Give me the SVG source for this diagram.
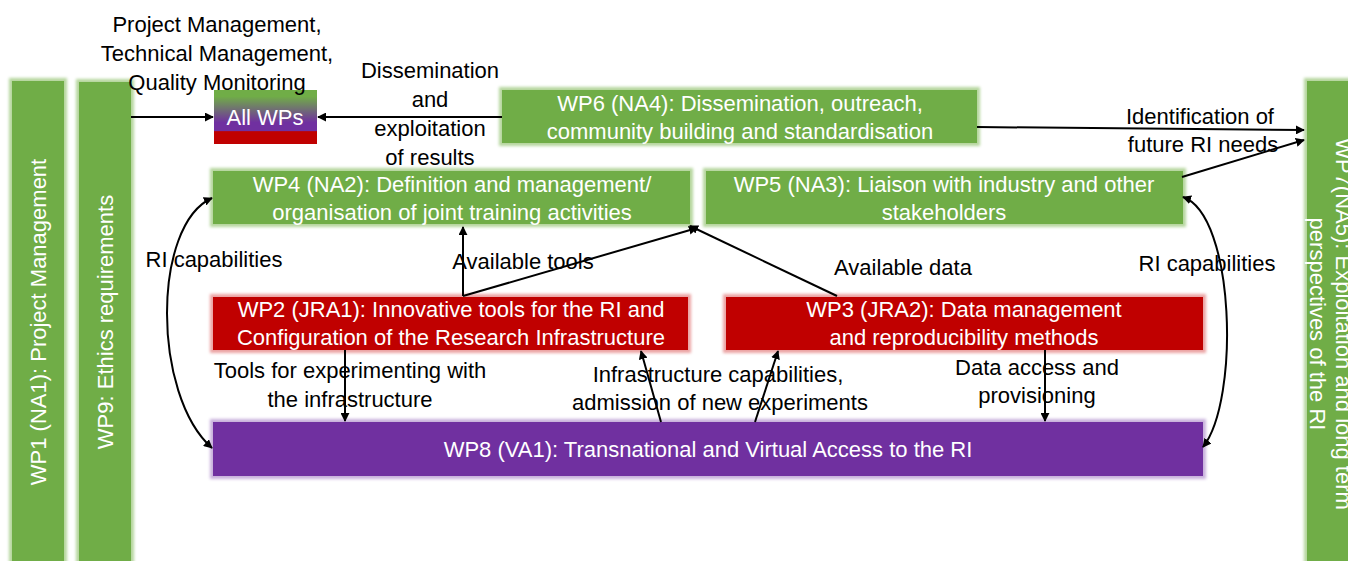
<svg xmlns="http://www.w3.org/2000/svg" width="1348" height="561" viewBox="0 0 1348 561">
<style>
text{font-family:"Liberation Sans",Arial,sans-serif;font-size:22px;text-anchor:middle}
.w{fill:#fff}
.k{fill:#000}
.g{fill:#70AD47}
.r{fill:#C00000}
.p{fill:#7030A0}
.gg{fill:#B5D69E;filter:url(#soft)}
.rg{fill:#EBA3A3;filter:url(#soft)}
.pg{fill:#C8B0DC;filter:url(#soft)}
.c{stroke:#000;stroke-width:2;fill:none}
</style>
<defs>
<filter id="soft" x="-5%" y="-5%" width="110%" height="110%">
<feGaussianBlur stdDeviation="1.6"/>
</filter>
<marker id="ah" viewBox="0 0 10 10" refX="9" refY="5" markerWidth="4.5" markerHeight="4.5" orient="auto-start-reverse" markerUnits="strokeWidth">
<path d="M0,0 L10,5 L0,10 z" fill="#000"/>
</marker>
<linearGradient id="allg" x1="0" y1="0" x2="0" y2="1">
<stop offset="0" stop-color="#70AD47"/>
<stop offset="0.12" stop-color="#70AD47"/>
<stop offset="0.6" stop-color="#7030A0"/>
<stop offset="0.76" stop-color="#7030A0"/>
<stop offset="0.77" stop-color="#C00000"/>
<stop offset="1" stop-color="#C00000"/>
</linearGradient>
</defs>

<g id="wp1">
<rect class="gg" x="9" y="78" width="58" height="490"/>
<rect class="g" x="12" y="81" width="52" height="490"/>
<text class="w" transform="translate(38,322) rotate(-90)" x="0" y="8">WP1 (NA1): Project Management</text>
</g>
<g id="wp9">
<rect class="gg" x="76" y="79" width="58" height="490"/>
<rect class="g" x="79" y="82" width="52" height="490"/>
<text class="w" transform="translate(105,322) rotate(-90)" x="0" y="8">WP9: Ethics requirements</text>
</g>
<g id="wp7">
<rect class="gg" x="1304" y="78" width="58" height="490"/>
<rect class="g" x="1307" y="81" width="52" height="490"/>
<text class="w" transform="translate(1331,324) rotate(90)" x="0" y="-5">WP7(NA5): Exploitation and long term</text>
<text class="w" transform="translate(1331,324) rotate(90)" x="0" y="21">perspectives of the RI</text>
</g>

<g id="allwps">
<rect x="214" y="90" width="103" height="54" fill="url(#allg)"/>
<text class="w" x="265" y="125">All WPs</text>
</g>

<g id="wp6">
<rect class="gg" x="499" y="87" width="481" height="59"/>
<rect class="g" x="502" y="90" width="475" height="53"/>
<text class="w" x="740" y="111">WP6 (NA4): Dissemination, outreach,</text>
<text class="w" x="740" y="139">community building and standardisation</text>
</g>

<g id="wp4">
<rect class="gg" x="210" y="168" width="483" height="59"/>
<rect class="g" x="213" y="171" width="477" height="53"/>
<text class="w" x="452" y="192">WP4 (NA2): Definition and management/</text>
<text class="w" x="452" y="220">organisation of joint training activities</text>
</g>

<g id="wp5">
<rect class="gg" x="703" y="168" width="483" height="59"/>
<rect class="g" x="706" y="171" width="477" height="53"/>
<text class="w" x="944" y="192">WP5 (NA3): Liaison with industry and other</text>
<text class="w" x="944" y="220">stakeholders</text>
</g>

<g id="wp2">
<rect class="rg" x="210" y="294" width="481" height="59"/>
<rect class="r" x="213" y="297" width="475" height="53"/>
<text class="w" x="451" y="317">WP2 (JRA1): Innovative tools for the RI and</text>
<text class="w" x="451" y="345">Configuration of the Research Infrastructure</text>
</g>

<g id="wp3">
<rect class="rg" x="723" y="294" width="483" height="59"/>
<rect class="r" x="726" y="297" width="477" height="53"/>
<text class="w" x="964" y="317">WP3 (JRA2): Data management</text>
<text class="w" x="964" y="345">and reproducibility methods</text>
</g>

<g id="wp8">
<rect class="pg" x="210" y="419" width="996" height="60"/>
<rect class="p" x="213" y="422" width="990" height="54"/>
<text class="w" x="708" y="457">WP8 (VA1): Transnational and Virtual Access to the RI</text>
</g>

<g id="connectors">
<path class="c" d="M131,117 L213,117" marker-end="url(#ah)"/>
<path class="c" d="M502,117 L318,117" marker-end="url(#ah)"/>
<path class="c" d="M977,127 L1304,130" marker-end="url(#ah)"/>
<path class="c" d="M1182,177 L1304,140" marker-end="url(#ah)"/>
<path class="c" d="M463,296 L463,227" marker-end="url(#ah)"/>
<path class="c" d="M463,296 L697,228" marker-end="url(#ah)"/>
<path class="c" d="M837,296 L690,226" marker-end="url(#ah)"/>
<path class="c" d="M345,350 L345,421" marker-end="url(#ah)"/>
<path class="c" d="M661,422 L641,351" marker-end="url(#ah)"/>
<path class="c" d="M755,422 L778,351" marker-end="url(#ah)"/>
<path class="c" d="M1045,350 L1045,421" marker-end="url(#ah)"/>
<path class="c" d="M212,198 C152,225 152,395 212,448" marker-start="url(#ah)" marker-end="url(#ah)"/>
<path class="c" d="M1183,197 C1235,215 1240,400 1203,447" marker-start="url(#ah)" marker-end="url(#ah)"/>
</g>

<g id="labels">
<text class="k" x="217" y="32">Project Management,</text>
<text class="k" x="217" y="61">Technical Management,</text>
<text class="k" x="217" y="90">Quality Monitoring</text>
<text class="k" x="430" y="78">Dissemination</text>
<text class="k" x="430" y="107">and</text>
<text class="k" x="430" y="136">exploitation</text>
<text class="k" x="430" y="165">of results</text>
<text class="k" x="1200" y="124">Identification of</text>
<text class="k" x="1203" y="152">future RI needs</text>
<text class="k" x="214" y="267">RI capabilities</text>
<text class="k" x="523" y="269">Available tools</text>
<text class="k" x="903" y="275">Available data</text>
<text class="k" x="1207" y="271">RI capabilities</text>
<text class="k" x="350" y="378">Tools for experimenting with</text>
<text class="k" x="350" y="407">the infrastructure</text>
<text class="k" x="718" y="382">Infrastructure capabilities,</text>
<text class="k" x="720" y="410">admission of new experiments</text>
<text class="k" x="1037" y="375">Data access and</text>
<text class="k" x="1037" y="403">provisioning</text>
</g>
</svg>
